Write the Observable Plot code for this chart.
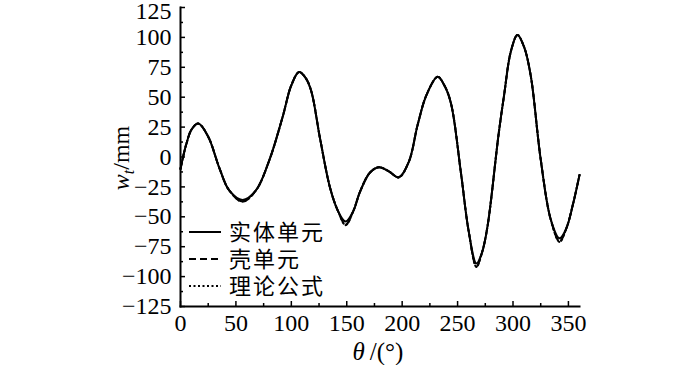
<!DOCTYPE html>
<html>
<head>
<meta charset="utf-8">
<script src="https://cdn.jsdelivr.net/npm/d3@7"></script>
<script src="https://cdn.jsdelivr.net/npm/@observablehq/plot@0.6"></script>
<style>
  html, body { margin: 0; padding: 0; background: #fff; }
  #chart { width: 700px; height: 365px; }
</style>
</head>
<body>
<div id="chart"></div>
<script>
const theta = [0, 5, 10, 16, 25, 35, 44, 56, 68, 80, 92, 100, 107, 113, 118, 126, 135, 142, 149, 156, 162, 171, 179, 188, 197, 206, 214, 222, 232, 238, 244, 253, 260, 267, 272, 277, 287, 292, 298, 304, 310, 316, 325, 334, 342, 348, 354, 360];
const solidW = [-10, 10, 23, 28, 17, -9, -28, -36, -28, -3, 33, 60, 71, 66, 55, 15, -26, -45, -54, -45, -29, -13, -8.5, -12, -17, -4, 27, 52, 67, 60, 45, -13, -62, -89, -80, -58, 19, 52, 88, 102, 92, 68, -2, -52, -68, -60, -40, -15];
const shellW = [-10, 10, 23, 28, 17, -9, -28, -37.5, -28, -3, 33, 60, 71, 66, 55, 15, -26, -45, -56.5, -45, -29, -13, -8.5, -12, -17, -4, 27, 52, 67, 60, 45, -13, -62, -91.5, -80, -58, 19, 52, 88, 102, 92, 68, -2, -52, -70.5, -60, -40, -15];
const theoryW = [-10, 10, 23, 28, 17, -9, -28, -37, -28, -3, 33, 60, 71, 66, 55, 15, -26, -45, -57, -45, -29, -13, -8.5, -12, -17, -4, 27, 52, 67, 60, 45, -13, -62, -92, -80, -58, 19, 52, 88, 102, 92, 68, -2, -52, -71, -60, -40, -15];

const seriesNames = ["实体单元", "壳单元", "理论公式"];
const xTicks = [0, 50, 100, 150, 200, 250, 300, 350];
const xMinor = [25, 75, 125, 175, 225, 275, 325];
const yTicks = [-125, -100, -75, -50, -25, 0, 25, 50, 75, 100, 125];
const yMinor = [-112.5, -87.5, -62.5, -37.5, -12.5, 12.5, 37.5, 62.5, 87.5, 112.5];

const rows = (ws) => theta.map((t, i) => ({t, w: ws[i]}));
const solid = rows(solidW), shell = rows(shellW), theory = rows(theoryW);

const serif = "'Liberation Serif', 'Times New Roman', serif";
const W = 700, H = 365, ML = 180, MR = 121, MT = 7, MB = 59;
const PW = W - ML - MR, PH = H - MT - MB;
const yTop = yTicks[yTicks.length - 1];

const chart = Plot.plot({
  width: W,
  height: H,
  marginLeft: ML,
  marginRight: MR,
  marginTop: MT,
  marginBottom: MB,
  style: {fontFamily: serif, fontSize: "24px", background: "white", color: "black", overflow: "visible"},
  x: {domain: [0, 360]},
  y: {domain: [-125, 125]},
  marks: [
    Plot.axisX({ticks: xTicks, tickSize: 0, tickPadding: 7, tickFormat: d => String(d), label: null}),
    Plot.axisY({ticks: yTicks.filter(d => d !== yTop), tickSize: 0, tickPadding: 9, label: null}),
    Plot.axisY({ticks: [yTop], tickSize: 0, tickPadding: 9, dy: 4, label: null}),
    Plot.tickX(xTicks, {x: d => d, insetTop: PH - 5, stroke: "black", strokeWidth: 1.5}),
    Plot.tickX(xMinor, {x: d => d, insetTop: PH - 3, stroke: "black", strokeWidth: 1.5}),
    Plot.tickY(yTicks, {y: d => d, insetRight: PW - 5, stroke: "black", strokeWidth: 1.5}),
    Plot.tickY(yMinor, {y: d => d, insetRight: PW - 3, stroke: "black", strokeWidth: 1.5}),
    Plot.frame({anchor: "left", strokeWidth: 2}),
    Plot.frame({anchor: "bottom", strokeWidth: 2}),
    Plot.line(theory, {x: "t", y: "w", stroke: "black", strokeWidth: 2, strokeDasharray: "2,2.5", curve: "catmull-rom"}),
    Plot.line(shell, {x: "t", y: "w", stroke: "black", strokeWidth: 2, strokeDasharray: "7,4", curve: "catmull-rom"}),
    Plot.line(solid, {x: "t", y: "w", stroke: "black", strokeWidth: 2, curve: "catmull-rom"})
  ]
});

document.getElementById("chart").appendChild(chart);

const svg = d3.select(chart);

// y-axis label: w_t/mm
const yl = svg.append("text")
  .attr("transform", "translate(129,158) rotate(-90)")
  .attr("text-anchor", "middle")
  .attr("font-family", serif)
  .attr("font-size", 24)
  .attr("fill", "black");
yl.append("tspan").attr("font-style", "italic").text("w");
yl.append("tspan").attr("font-style", "italic").attr("font-size", 16).attr("dy", 5).text("t");
yl.append("tspan").attr("dy", -5).text("/mm");

// x-axis label: θ/(°)
const xl = svg.append("text")
  .attr("x", 378)
  .attr("y", 360)
  .attr("text-anchor", "middle")
  .attr("font-family", serif)
  .attr("font-size", 25)
  .attr("fill", "black");
xl.append("tspan").attr("font-style", "italic").text("θ");
xl.append("tspan").text("\u2009/(°)");

// legend
const dashes = [null, "7,4", "2,2.5"];
const legendY = [232, 259, 286];
seriesNames.forEach((name, i) => {
  svg.append("line")
    .attr("x1", 189).attr("x2", 221)
    .attr("y1", legendY[i]).attr("y2", legendY[i])
    .attr("stroke", "black").attr("stroke-width", 2)
    .attr("stroke-dasharray", dashes[i]);
});
const lt = svg.append("text")
  .attr("text-anchor", "start")
  .attr("font-family", "'Noto Sans CJK SC', sans-serif")
  .attr("font-size", 22)
  .attr("letter-spacing", 2)
  .attr("fill", "black");
seriesNames.forEach((name, i) => {
  lt.append("tspan")
    .attr("x", 229).attr("y", legendY[i] + 8)
    .text(name);
});
</script>
</body>
</html>
